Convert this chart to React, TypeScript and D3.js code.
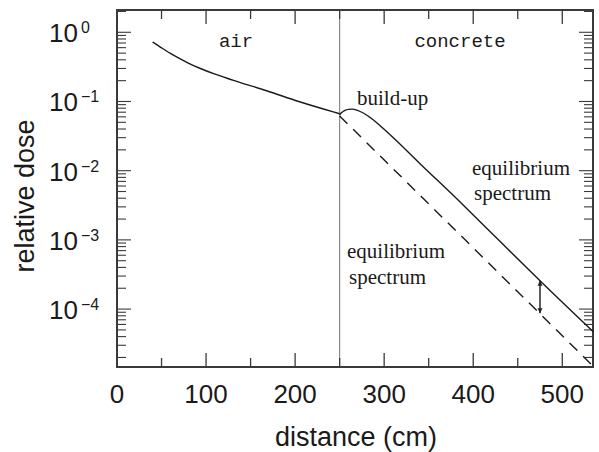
import React from "react";
import * as d3 from "d3";

// Dose in air (solid, source side of the wall)
const airDistance = [40, 50, 60, 70, 80, 93, 110, 130, 168, 205, 242, 250];
const airDose = [0.724, 0.596, 0.495, 0.419, 0.359, 0.302, 0.248, 0.204, 0.143, 0.099, 0.0712, 0.0665];

// Dose inside the concrete, including the build-up bump
const concreteDistance = [250, 252, 256, 260, 264, 270, 277, 288, 299, 310, 340, 385, 430, 475, 535];
const concreteDose = [0.064, 0.0685, 0.0745, 0.077, 0.0775, 0.0745, 0.0676, 0.054, 0.0407, 0.0302, 0.01274, 0.00355, 0.000955, 0.000257, 0.0000468];

// Equilibrium-spectrum attenuation line (dashed)
const equilibriumDistance = [250, 535];
const equilibriumDose = [0.0617, 0.0000148];

// Double arrow marking the build-up factor
const arrowDistance = 475;
const arrowDose = [0.000257, 0.000087];

const xTicks = [0, 100, 200, 300, 400, 500];
const xMinorTicks = [50, 150, 250, 350, 450];
const yDecades = [0, -1, -2, -3, -4];
const yDecadeLabels = ["0", "\u22121", "\u22122", "\u22123", "\u22124"];

const W = 599;
const H = 452;
const M = { left: 117, right: 593, top: 10, bottom: 367 };

export default function App() {
  const x = d3.scaleLinear().domain([0, 534.5]).range([M.left, M.right]);
  const y = d3
    .scaleLog()
    .domain([Math.pow(10, -4.837), Math.pow(10, 0.322)])
    .range([M.bottom, M.top]);

  const line = d3
    .line<[number, number]>()
    .x((d) => x(d[0]))
    .y((d) => y(d[1]))
    .curve(d3.curveMonotoneX);

  const airPts = airDistance.map((d, i) => [d, airDose[i]] as [number, number]);
  const concPts = concreteDistance.map((d, i) => [d, concreteDose[i]] as [number, number]);
  const eqPts = equilibriumDistance.map((d, i) => [d, equilibriumDose[i]] as [number, number]);

  // log minor ticks within the visible range
  const [yLo, yHi] = y.domain();
  const yTickVals: { v: number; major: boolean }[] = [];
  for (let e = -5; e <= 0; e++) {
    for (let k = 1; k <= 9; k++) {
      const v = k * Math.pow(10, e);
      if (v > yLo && v < yHi) yTickVals.push({ v, major: k === 1 });
    }
  }

  const axisColor = "#3a3a3a";
  const majorLen = 14;
  const minorLen = 9;
  const sans = "'Liberation Sans', Arial, sans-serif";
  const serif = "'Liberation Serif', 'Times New Roman', serif";
  const mono = "'Liberation Mono', 'Courier New', monospace";

  return (
    <svg
      width={W}
      height={H}
      style={{ position: "absolute", left: 0, top: 0, background: "#fff" }}
    >
      <defs>
        <marker id="ah" viewBox="0 0 10 10" refX="10" refY="5" markerWidth="5" markerHeight="7" orient="auto-start-reverse" markerUnits="userSpaceOnUse">
          <path d="M0,0 L10,5 L0,10 z" fill="#222" />
        </marker>
      </defs>

      {/* interface between air and concrete */}
      <line x1={x(250)} x2={x(250)} y1={M.top} y2={M.bottom} stroke="#808080" strokeWidth={1.1} />

      {/* x ticks, bottom and top, pointing inward */}
      {xTicks.concat(xMinorTicks).map((t) => {
        const len = xTicks.includes(t) ? majorLen : minorLen;
        return (
          <g key={"xt" + t} stroke={axisColor} strokeWidth={1.3}>
            <line x1={x(t)} x2={x(t)} y1={M.bottom} y2={M.bottom - len} />
            <line x1={x(t)} x2={x(t)} y1={M.top} y2={M.top + len} />
          </g>
        );
      })}

      {/* y ticks, left and right */}
      {yTickVals.map((t, i) => {
        const len = t.major ? majorLen : minorLen;
        return (
          <g key={"yt" + i} stroke={axisColor} strokeWidth={1.1}>
            <line x1={M.left} x2={M.left + len} y1={y(t.v)} y2={y(t.v)} />
            <line x1={M.right} x2={M.right - len} y1={y(t.v)} y2={y(t.v)} />
          </g>
        );
      })}

      {/* frame */}
      <rect
        x={M.left}
        y={M.top}
        width={M.right - M.left}
        height={M.bottom - M.top}
        fill="none"
        stroke={axisColor}
        strokeWidth={2}
      />

      {/* curves */}
      <path d={line(airPts) || ""} fill="none" stroke="#1a1a1a" strokeWidth={1.4} />
      <path d={line(concPts) || ""} fill="none" stroke="#1a1a1a" strokeWidth={1.4} />
      <path d={line(eqPts) || ""} fill="none" stroke="#1a1a1a" strokeWidth={1.4} strokeDasharray="11,8" />

      {/* build-up arrow */}
      <line
        x1={x(arrowDistance)}
        x2={x(arrowDistance)}
        y1={y(arrowDose[0])}
        y2={y(arrowDose[1])}
        stroke="#1a1a1a"
        strokeWidth={1.4}
        markerStart="url(#ah)"
        markerEnd="url(#ah)"
      />

      {/* x tick labels */}
      {xTicks.map((t) => (
        <text key={"xl" + t} x={x(t)} y={403} textAnchor="middle" fontFamily={sans} fontSize={26} fill="#1a1a1a">
          {t}
        </text>
      ))}

      {/* y tick labels */}
      {yDecades.map((e, i) => (
        <g key={"yl" + e} fill="#1a1a1a" fontFamily={sans}>
          <text x={49} y={y(Math.pow(10, e)) + 10} fontSize={26}>
            10
          </text>
          <text x={81} y={y(Math.pow(10, e)) + 1} fontSize={16}>
            {yDecadeLabels[i]}
          </text>
        </g>
      ))}

      {/* axis titles */}
      <text x={356} y={446} textAnchor="middle" fontFamily={sans} fontSize={27} fill="#1a1a1a">
        distance (cm)
      </text>
      <text
        transform={`translate(34,196) rotate(-90)`}
        textAnchor="middle"
        fontFamily={sans}
        fontSize={27}
        fill="#1a1a1a"
      >
        relative dose
      </text>

      {/* region labels */}
      <text x={236} y={47} textAnchor="middle" fontFamily={mono} fontSize={19} fill="#1a1a1a">
        air
      </text>
      <text x={460} y={47} textAnchor="middle" fontFamily={mono} fontSize={19} fill="#1a1a1a">
        concrete
      </text>

      {/* annotations */}
      <g fontFamily={serif} fontSize={21} fill="#1a1a1a">
        <text x={357} y={105}>build-up</text>
        <text x={472} y={175}>equilibrium</text>
        <text x={474} y={200}>spectrum</text>
        <text x={347} y={258}>equilibrium</text>
        <text x={349} y={284}>spectrum</text>
      </g>
    </svg>
  );
}
